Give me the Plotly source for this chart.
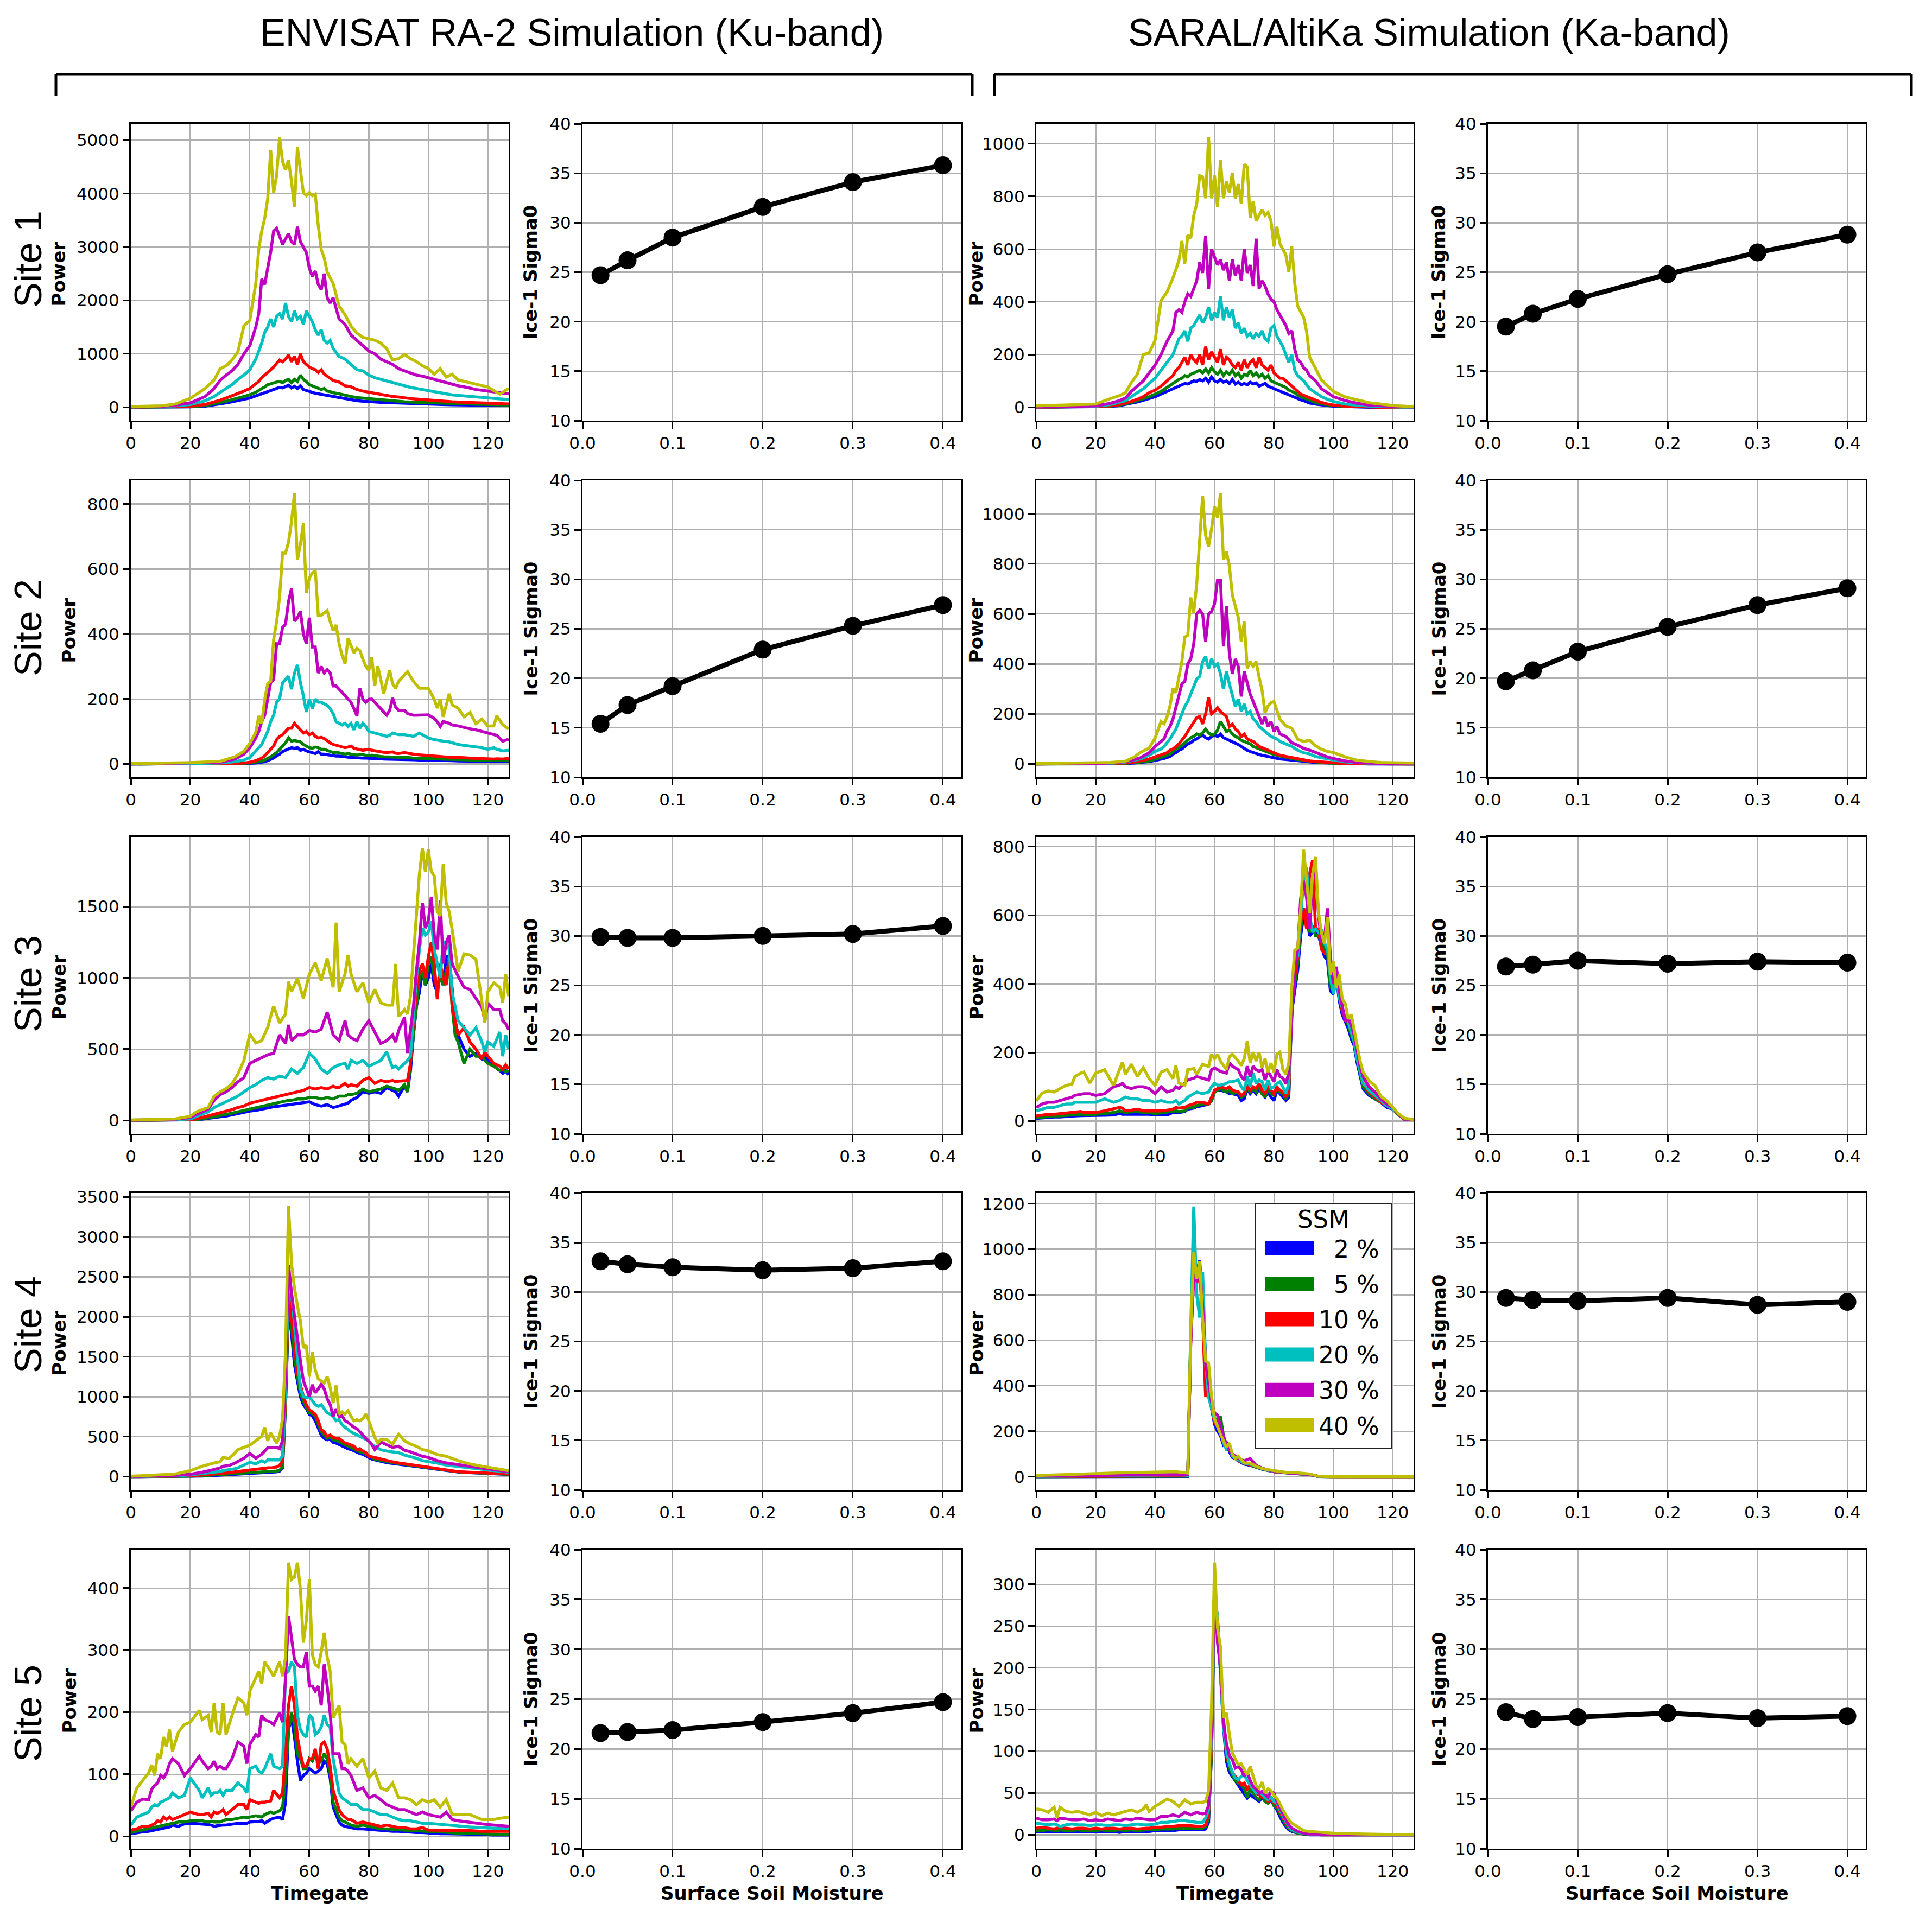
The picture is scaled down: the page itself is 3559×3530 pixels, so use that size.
import plotly.graph_objects as go

# ------------------------------------------------------------------ labels
SSM_LABELS = ["2 %", "5 %", "10 %", "20 %", "30 %", "40 %"]
SSM_VALUES = [0.02, 0.05, 0.10, 0.20, 0.30, 0.40]
SITE_LABELS = ["Site 1", "Site 2", "Site 3", "Site 4", "Site 5"]
BAND_TITLES = ["ENVISAT RA-2 Simulation (Ku-band)", "SARAL/AltiKa Simulation (Ka-band)"]
LEGEND_TITLE = "SSM"
Y_WAVE_LABEL = "Power"
Y_SIG_LABEL = "Ice-1 Sigma0"
X_WAVE_LABEL = "Timegate"
X_SIG_LABEL = "Surface Soil Moisture"

# ------------------------------------------------------------------ Ice-1 sigma0 vs SSM
S1_KU_SIG = [24.7, 26.2, 28.5, 31.6, 34.1, 35.8]
S1_KA_SIG = [19.5, 20.8, 22.3, 24.8, 27.0, 28.8]
S2_KU_SIG = [15.4, 17.3, 19.2, 22.9, 25.3, 27.4]
S2_KA_SIG = [19.7, 20.8, 22.7, 25.2, 27.4, 29.1]
S3_KU_SIG = [29.9, 29.8, 29.8, 30.0, 30.2, 31.0]
S3_KA_SIG = [26.9, 27.1, 27.5, 27.2, 27.4, 27.3]
S4_KU_SIG = [33.1, 32.8, 32.5, 32.2, 32.4, 33.1]
S4_KA_SIG = [29.4, 29.2, 29.1, 29.4, 28.7, 29.0]
S5_KU_SIG = [21.6, 21.7, 21.9, 22.7, 23.6, 24.7]
S5_KA_SIG = [23.7, 23.0, 23.2, 23.6, 23.1, 23.3]

# ------------------------------------------------------------------ Site 1, Ku
S1_KU_T = [0,10,15,20,25,28,30,32,34,36,
           38,40,42,43,44,45,46,47,48,49,
           50,51,52,53,54,55,56,57,58,59,
           60,61,62,63,64,65,66,67,68,70,
           72,74,76,78,80,82,84,86,88,90,
           92,94,96,98,100,102,104,106,108,110,
           113,116,120,124,127]
S1_KU_40 = [10,25,58,165,350,510,720,775,880,1040,
            1520,1625,2316,2954,3300,3538,3900,4813,4017,4335,
            5053,4600,4442,4628,4229,3751,4866,4388,4017,3963,
            4017,3960,3990,3400,2954,2795,2529,2423,2316,1891,
            1732,1520,1387,1307,1280,1254,1200,1094,882,908,
            988,908,855,776,722,616,722,563,616,510,
            470,430,377,244,350]
S1_KU_30 = [5,15,40,80,200,350,500,600,680,800,
            1000,1150,1500,1750,2400,2300,2600,2900,3300,3350,
            3200,3050,3150,3250,3100,3050,3380,3100,3000,2900,
            2600,2450,2550,2300,2200,2500,2050,1950,2050,1650,
            1550,1350,1250,1150,1050,1000,900,850,800,720,
            680,650,600,580,550,520,480,460,420,400,
            370,330,300,270,250]
S1_KU_20 = [3,10,25,50,120,200,280,350,420,520,
            600,700,900,1050,1200,1400,1500,1650,1500,1700,
            1750,1650,1950,1700,1600,1800,1650,1700,1550,1800,
            1700,1600,1450,1350,1450,1250,1200,1250,1100,950,
            900,800,700,680,600,550,520,480,450,420,
            400,370,350,330,300,280,270,250,230,220,
            205,190,170,150,140]
S1_KU_10 = [2,5,10,20,50,90,130,170,210,250,
            300,350,430,480,550,600,650,700,750,820,
            880,850,900,980,850,950,800,1000,850,800,
            750,720,700,650,700,620,580,540,500,470,
            400,380,330,300,280,260,230,220,200,190,
            170,160,150,140,130,120,115,110,100,95,
            90,85,70,65,60]
S1_KU_05 = [1,3,6,10,30,60,90,110,140,170,
            200,230,280,310,350,380,420,440,450,470,
            480,460,500,520,460,520,480,600,520,480,
            420,400,380,360,330,350,300,290,270,250,
            220,200,180,170,150,140,130,120,110,105,
            100,95,90,85,80,78,72,70,65,62,
            60,55,50,45,40]
S1_KU_02 = [1,2,4,5,20,40,60,80,100,120,
            150,170,210,230,260,280,300,310,330,350,
            370,360,380,410,360,390,350,400,330,310,
            300,280,260,250,240,230,210,200,190,170,
            150,140,120,110,100,95,90,85,80,75,
            70,65,60,58,55,52,50,48,45,42,
            40,38,35,32,30]

# ------------------------------------------------------------------ Site 1, Ka
S1_KA_T = [0,10,20,25,28,30,32,34,36,38,
           40,42,44,46,47,48,49,50,51,52,
           53,54,55,56,57,58,59,60,61,62,
           63,64,65,66,67,68,69,70,71,72,
           73,74,75,76,77,78,79,80,81,82,
           83,84,85,86,87,88,89,90,91,92,
           94,96,98,100,104,108,112,116,120,127]
S1_KA_40 = [5,8,12,33,44,55,93,125,200,206,
            254,405,437,491,524,556,631,545,653,642,
            728,772,879,874,793,1025,793,879,761,939,
            793,858,815,890,793,847,772,922,912,718,
            782,707,728,750,728,739,707,610,685,621,
            599,578,513,610,470,384,362,341,287,190,
            147,103,82,60,39,28,17,12,6,2]
S1_KA_30 = [1,2,5,15,25,35,60,80,100,130,
            160,200,250,290,360,370,360,400,430,420,
            450,480,550,510,650,450,600,570,540,560,
            520,550,480,560,500,540,480,600,510,540,
            460,640,450,480,460,430,410,400,370,350,
            330,310,280,290,220,180,170,150,140,120,
            100,70,55,40,25,15,8,5,3,1]
S1_KA_20 = [1,2,4,10,18,25,40,55,70,90,
            110,140,170,200,230,260,270,290,250,300,
            310,330,350,320,340,380,330,360,340,420,
            330,380,340,370,300,320,280,300,270,280,
            260,280,270,290,260,250,300,310,270,250,
            230,200,170,200,140,120,110,100,85,70,
            55,40,30,22,12,7,4,2,1,0]
S1_KA_10 = [0,1,2,5,10,15,22,30,40,55,
            65,80,100,120,140,150,170,190,160,200,
            180,170,200,160,230,180,210,190,170,220,
            160,190,180,160,150,170,140,180,150,170,
            180,150,190,160,150,140,160,130,120,110,
            110,100,90,80,70,60,50,45,40,35,
            25,18,12,8,4,2,1,0,0,0]
S1_KA_05 = [0,1,2,4,8,12,18,25,32,40,
            50,60,75,90,100,105,110,120,115,125,
            130,135,140,130,145,130,150,135,125,140,
            120,135,125,140,120,130,110,125,120,140,
            120,130,115,125,110,120,100,95,90,85,
            80,75,65,60,55,45,40,35,30,25,
            18,12,8,6,3,2,1,0,0,0]
S1_KA_02 = [0,1,1,3,6,10,15,20,26,32,
            40,50,60,70,75,80,85,90,88,95,
            100,98,105,100,110,95,115,100,95,105,
            95,100,90,105,88,95,85,90,85,95,
            88,92,80,85,90,80,75,70,65,60,
            55,50,45,40,35,30,28,25,20,16,
            12,8,6,4,2,1,0,0,0,0]

# ------------------------------------------------------------------ Site 2, Ku
S2_KU_T = [0,10,20,30,35,38,40,42,43,44,
           45,46,47,48,49,50,51,52,53,54,
           55,56,57,58,59,60,61,62,63,64,
           65,66,67,68,69,70,71,72,73,74,
           75,76,77,78,79,80,81,82,83,84,
           85,86,87,88,89,90,92,93,95,97,
           100,102,103,104,105,107,108,110,112,114,
           116,118,120,122,123,125,127]
S2_KU_40 = [1,2,4,8,22,39,63,97,148,124,
            199,247,254,383,438,513,649,649,683,745,
            833,629,676,741,526,574,588,595,458,458,
            465,472,438,410,428,370,335,308,387,363,
            342,356,349,322,301,288,329,240,301,260,
            216,254,288,247,233,254,274,284,254,233,
            233,199,172,199,145,216,182,172,145,158,
            124,138,117,117,148,121,107]
S2_KU_30 = [0,1,2,5,15,30,50,80,100,130,
            150,200,250,260,370,370,420,430,500,540,
            440,450,470,400,370,450,360,360,280,300,
            280,290,280,240,240,230,220,210,200,190,
            170,148,233,200,190,199,200,190,180,170,
            160,150,165,203,175,165,165,155,150,150,
            151,140,130,115,131,125,120,117,112,108,
            105,100,97,92,88,70,76]
S2_KU_20 = [0,0,1,3,7,12,20,40,50,60,
            80,100,130,150,190,200,250,260,270,230,
            280,305,250,210,160,200,170,200,190,190,
            185,180,170,155,130,125,120,125,115,125,
            105,130,110,125,115,100,98,95,92,90,
            88,85,88,95,92,90,90,88,85,95,
            80,75,73,72,70,68,65,60,57,55,
            52,50,45,50,45,40,42]
S2_KU_10 = [0,0,0,1,2,3,5,10,14,18,
            25,35,45,55,75,85,90,100,110,110,
            125,115,105,95,100,90,95,85,80,82,
            78,70,65,60,58,55,52,50,52,55,
            48,45,44,42,44,45,42,40,39,38,
            36,35,36,37,33,32,35,33,30,28,
            25,24,23,22,22,21,21,20,19,18,
            17,16,15,15,16,15,17]
S2_KU_05 = [0,0,0,1,1,2,3,5,7,9,
            12,16,22,28,35,45,55,65,80,70,
            72,70,68,60,55,50,48,52,50,45,
            45,42,40,35,36,33,32,30,32,30,
            28,27,30,28,26,25,27,25,24,23,
            22,22,23,22,21,20,21,20,18,18,
            17,16,16,15,15,14,14,13,13,12,
            12,11,11,11,10,10,10]
S2_KU_02 = [0,0,0,0,1,1,2,3,4,5,
            7,10,14,18,25,30,38,42,48,50,
            48,50,42,45,40,38,35,32,38,30,
            30,28,26,25,24,24,22,22,21,20,
            20,19,19,18,18,18,17,17,16,16,
            15,15,15,14,14,14,13,13,13,12,
            12,11,11,11,10,10,10,9,9,9,
            8,8,8,7,7,7,7]

# ------------------------------------------------------------------ Site 2, Ka
S2_KA_T = [0,10,20,25,30,33,35,38,40,42,
           43,44,45,46,47,48,49,50,51,52,
           53,54,55,56,57,58,59,60,61,62,
           63,64,65,66,67,68,69,70,71,72,
           73,74,75,76,77,78,79,80,81,82,
           84,86,88,90,92,94,96,98,100,104,
           108,112,116,120,127]
S2_KA_40 = [2,3,4,6,11,28,46,64,104,170,
            161,188,232,303,285,356,409,507,515,666,
            604,719,887,1073,914,870,940,1029,985,1082,
            817,850,790,675,631,586,489,569,383,409,
            391,409,347,294,205,232,245,250,214,179,
            152,143,99,90,95,73,59,50,46,28,
            15,11,6,5,4]
S2_KA_30 = [1,1,2,4,10,18,25,45,70,90,
            100,130,150,180,230,280,320,330,400,420,
            480,600,615,600,490,600,610,640,735,735,
            470,630,440,360,420,390,270,370,320,280,
            250,220,190,160,190,150,170,130,150,120,
            110,85,75,62,55,45,35,28,22,12,
            6,3,2,1,0]
S2_KA_20 = [1,1,2,3,8,15,20,35,50,60,
            70,85,100,120,140,170,200,230,250,280,
            310,340,350,410,430,380,420,390,400,360,
            300,370,320,280,230,260,210,240,200,210,
            180,170,150,140,130,120,110,105,100,90,
            80,70,55,45,40,30,25,20,15,8,
            5,3,2,1,0]
S2_KA_10 = [0,1,1,2,4,8,12,20,28,35,
            40,45,55,60,70,80,95,110,130,150,
            170,185,190,160,200,265,200,210,225,210,
            200,190,150,160,140,130,110,120,100,95,
            90,80,70,65,60,55,50,45,40,35,
            30,25,20,15,12,10,8,6,4,2,
            1,1,0,0,0]
S2_KA_05 = [0,0,1,1,3,5,8,12,18,25,
            30,35,40,50,60,65,75,85,95,105,
            110,120,115,125,140,125,115,120,135,170,
            150,130,135,120,110,105,95,90,85,80,
            70,65,60,55,50,45,42,38,35,32,
            28,22,18,14,10,8,6,4,3,2,
            1,0,0,0,0]
S2_KA_02 = [0,0,0,1,2,4,6,10,14,18,
            22,26,30,40,45,55,60,70,80,85,
            95,100,110,115,105,100,110,115,110,120,
            105,100,95,90,85,78,70,62,55,50,
            45,40,38,35,32,30,27,25,22,20,
            18,15,12,10,8,6,5,4,3,2,
            1,0,0,0,0]

# ------------------------------------------------------------------ Site 3, Ku
S3_KU_T = [0,10,15,20,22,24,26,28,30,32,
           34,36,38,40,42,44,46,48,50,52,
           53,54,56,58,60,62,64,66,68,69,
           70,72,73,74,76,78,80,82,84,86,
           88,89,90,92,93,94,95,96,97,98,
           99,100,101,102,103,104,105,106,107,108,
           109,110,112,114,116,118,119,120,122,124,
           125,126,127]
S3_KU_40 = [2,5,10,28,59,75,91,169,200,223,
            255,325,419,606,544,559,653,802,684,747,
            973,903,997,856,1028,1106,981,1137,934,1388,
            903,1028,1161,1028,903,966,825,919,825,809,
            809,1098,731,778,747,872,1184,1466,1731,1911,
            1747,1903,1747,1716,1466,1434,1802,1528,1466,1341,
            1200,1044,1169,1161,1130,841,684,903,966,934,
            825,1028,872]
S3_KU_30 = [1,3,8,20,40,60,80,140,180,200,
            230,270,300,400,420,440,460,470,600,540,
            670,560,600,600,630,620,640,760,600,580,
            560,700,600,580,560,640,700,620,540,560,
            600,550,630,723,473,637,800,1050,1250,1528,
            1350,1403,1567,1300,1200,1544,1100,1250,1300,1100,
            1050,1012,934,919,856,794,700,825,778,778,
            700,680,637]
S3_KU_20 = [1,2,5,10,25,40,60,90,110,130,
            150,170,200,230,250,280,300,290,310,300,
            330,360,330,370,470,430,360,330,370,380,
            390,400,360,420,400,420,380,400,420,480,
            370,380,360,400,420,450,750,1000,1200,1350,
            1300,1320,1400,1200,1100,1000,1250,1250,1200,900,
            800,700,650,600,650,550,480,550,520,620,
            450,600,500]
S3_KU_10 = [0,1,3,5,10,20,30,40,50,60,
            75,90,100,120,130,140,150,160,170,180,
            180,190,200,210,230,220,230,220,240,230,
            230,260,240,250,240,280,300,260,280,270,
            280,270,275,280,280,400,700,900,1050,1100,
            1000,1150,1250,1100,850,1100,1000,950,1150,800,
            700,600,650,550,500,430,480,450,400,380,
            360,390,360]
S3_KU_05 = [0,1,1,2,5,10,18,25,30,40,
            50,60,70,80,90,100,110,120,130,140,
            140,140,150,150,160,160,150,160,150,160,
            170,170,180,180,190,220,200,210,220,240,
            230,220,210,250,200,400,650,850,1000,1050,
            950,1100,1150,1000,950,1000,950,1050,1100,800,
            600,550,400,500,450,450,420,400,380,350,
            360,340,350]
S3_KU_02 = [0,1,1,2,4,8,12,18,25,30,
            40,50,55,65,70,80,90,95,100,105,
            110,110,120,120,130,110,100,110,90,95,
            100,110,120,140,160,200,190,200,190,230,
            210,200,170,240,200,350,600,800,900,1050,
            950,1000,1100,950,900,1050,950,1150,1150,900,
            700,600,500,450,470,430,450,420,380,350,
            330,350,320]

# ------------------------------------------------------------------ Site 3, Ka
S3_KA_T = [0,2,4,6,8,10,12,13,15,16,
           18,20,23,26,28,29,30,32,34,36,
           38,40,42,44,46,47,48,50,51,53,
           54,56,58,59,60,61,62,64,65,66,
           68,69,70,71,72,73,74,75,76,77,
           78,79,80,81,82,83,84,85,86,87,
           88,89,90,91,92,93,94,95,96,97,
           98,99,100,101,102,103,104,105,106,107,
           108,109,110,112,114,116,118,120,122,124,
           127]
S3_KA_40 = [59,82,88,85,95,104,108,130,140,143,
            111,140,150,104,150,172,137,166,130,156,
            124,104,143,150,124,162,111,104,150,153,
            137,166,159,195,182,195,175,150,188,195,
            175,162,182,233,169,201,175,201,156,182,
            143,169,143,195,201,150,137,169,388,498,
            504,620,791,689,607,717,771,607,549,517,
            594,427,465,388,427,356,343,298,311,266,
            220,175,143,117,104,72,59,40,21,8,
            5]
S3_KA_30 = [40,50,55,55,60,65,70,75,78,80,
            80,75,80,100,105,110,100,95,100,100,
            95,80,100,85,90,100,95,110,120,125,
            130,125,120,150,155,150,145,140,170,160,
            150,130,120,160,130,160,150,145,150,120,
            145,130,115,150,130,125,110,140,300,450,
            500,650,700,650,560,700,740,600,520,530,
            620,480,400,450,380,330,290,300,280,250,
            200,160,130,100,85,65,50,40,20,6,
            5]
S3_KA_20 = [30,35,40,40,45,50,50,55,55,55,
            55,55,65,55,60,65,70,65,65,60,
            60,55,60,55,55,60,50,60,70,80,
            85,80,85,100,110,105,105,110,115,115,
            120,100,90,130,100,140,110,120,115,90,
            120,95,100,110,115,100,80,110,380,470,
            480,600,700,740,600,550,560,550,560,520,
            500,420,370,420,360,330,300,290,260,230,
            180,140,110,90,75,60,45,35,20,6,
            5]
S3_KA_10 = [15,18,20,20,22,25,25,28,28,25,
            25,25,30,35,40,38,30,32,35,30,
            30,28,30,32,35,40,38,40,45,50,
            55,55,50,70,90,95,100,95,100,90,
            85,75,80,105,90,100,95,110,90,80,
            100,90,80,100,90,85,70,90,350,420,
            480,580,620,560,720,760,560,560,500,490,
            500,430,400,440,380,320,300,290,260,240,
            190,150,110,85,70,55,45,35,20,5,
            4]
S3_KA_05 = [10,12,14,15,15,17,18,18,20,20,
            18,20,22,25,30,28,25,27,28,25,
            25,22,24,25,28,30,28,30,38,40,
            45,50,50,60,85,90,95,85,90,80,
            85,70,75,100,85,95,85,105,80,70,
            95,80,75,95,85,80,65,80,340,400,
            460,560,620,600,550,570,540,540,520,500,
            490,390,390,430,360,320,300,280,250,230,
            180,140,100,80,65,55,45,35,18,5,
            4]
S3_KA_02 = [8,10,10,12,12,14,15,15,16,16,
            15,16,17,18,22,20,20,22,22,20,
            20,18,20,18,25,25,25,28,35,38,
            42,45,50,60,85,90,90,85,80,80,
            75,60,65,95,80,90,80,95,80,70,
            85,70,60,90,80,70,60,70,320,380,
            440,540,600,600,540,550,550,540,510,480,
            470,380,370,420,350,310,290,270,240,220,
            170,130,95,75,65,55,40,35,18,5,
            4]

# ------------------------------------------------------------------ Site 4, Ku
S4_KU_T = [0,10,15,20,24,28,30,31,33,35,
           36,38,40,42,44,45,46,47,48,49,
           50,51,52,53,54,55,56,57,58,59,
           60,61,62,63,64,65,66,67,68,69,
           70,71,72,73,74,75,76,77,78,79,
           80,81,82,83,84,86,88,90,92,94,
           96,98,100,103,106,110,114,118,122,127]
S4_KU_40 = [5,20,33,75,130,172,186,241,227,297,
            338,366,394,449,505,616,449,546,477,421,
            505,727,1558,3389,2668,2363,2141,1947,1614,1642,
            1253,1558,1337,1226,1198,1170,1253,1115,921,1142,
            782,810,782,824,754,699,713,699,727,782,
            699,588,491,421,463,463,408,532,449,408,
            380,338,324,276,255,200,158,130,103,75]
S4_KU_30 = [2,8,15,30,55,90,110,130,140,170,
            190,230,290,230,280,320,360,366,366,366,
            350,450,1300,2650,2300,2000,1700,1450,1200,1100,
            1000,1150,1050,1100,1156,1100,976,900,754,850,
            754,760,699,680,650,616,600,560,520,480,
            449,400,338,380,435,400,366,380,330,310,
            280,255,240,200,172,150,125,110,90,61]
S4_KU_20 = [1,5,10,20,35,55,65,75,85,100,
            110,150,180,160,200,180,210,210,210,210,
            210,260,1100,2400,2300,1900,1500,1100,1000,990,
            1000,950,900,880,900,850,800,782,750,700,
            713,650,620,588,560,540,520,500,480,460,
            449,400,380,360,338,320,310,300,270,250,
            230,200,190,170,144,125,105,90,75,55]
S4_KU_10 = [0,2,5,10,20,30,40,45,50,60,
            65,75,80,90,100,100,110,110,115,120,
            140,200,1000,2300,2000,1600,1300,1150,1004,900,
            837,810,782,700,588,560,505,520,490,480,
            477,450,421,410,394,380,338,350,320,300,
            255,250,240,230,220,200,185,172,165,150,
            140,130,116,100,85,61,55,47,40,33]
S4_KU_05 = [0,1,3,6,12,20,25,28,32,38,
            40,45,50,55,60,60,65,65,68,70,
            80,120,900,2200,1900,1500,1250,1050,950,860,
            800,790,760,650,560,520,480,500,460,450,
            440,420,400,380,360,340,320,310,300,280,
            250,240,220,210,205,190,175,165,155,145,
            135,125,110,95,80,60,52,45,38,30]
S4_KU_02 = [0,1,2,4,8,14,18,20,24,28,
            30,35,40,45,48,50,52,55,58,60,
            70,110,900,2100,1800,1400,1200,1000,900,850,
            780,760,700,620,520,480,460,470,430,420,
            400,390,370,350,340,320,300,290,280,260,
            230,220,210,200,190,175,165,155,145,135,
            125,115,105,90,75,58,50,42,35,28]

# ------------------------------------------------------------------ Site 4, Ka
S4_KA_T = [0,10,20,30,40,47,50,51,52,53,
           54,55,56,57,58,59,60,61,62,63,
           64,65,66,67,68,70,72,74,76,78,
           80,84,88,92,95,100,110,127]
S4_KA_40 = [5,10,14,18,20,22,18,16,645,986,
            869,947,694,509,499,353,255,216,187,158,
            129,148,99,80,90,60,60,46,36,31,
            26,19,17,12,2,0,0,0]
S4_KA_30 = [2,4,6,8,10,12,10,9,600,870,
            860,930,750,500,420,330,280,270,220,180,
            140,120,100,90,80,70,80,50,38,30,
            24,18,15,10,2,0,0,0]
S4_KA_20 = [1,3,4,5,7,8,7,6,650,1188,
            800,700,900,500,350,300,250,230,200,150,
            120,130,90,80,75,60,55,45,35,28,
            23,17,14,10,1,0,0,0]
S4_KA_10 = [1,2,3,3,4,5,4,4,600,900,
            850,900,700,350,480,300,240,220,210,170,
            140,120,95,80,70,58,52,45,35,28,
            22,18,14,10,1,0,0,0]
S4_KA_05 = [0,1,2,2,2,3,2,2,620,900,
            880,920,776,500,450,300,260,230,265,180,
            140,115,95,85,75,60,50,42,34,27,
            22,17,14,9,1,0,0,0]
S4_KA_02 = [0,0,1,1,1,1,1,1,620,950,
            900,950,760,520,400,300,230,200,180,140,
            150,110,85,80,70,55,50,40,33,27,
            22,17,13,9,1,0,0,0]

# ------------------------------------------------------------------ Site 5, Ku
S5_KU_T = [0,2,4,6,7,8,9,10,11,12,
           13,14,16,18,20,23,24,26,27,28,
           29,30,31,32,34,36,38,39,40,42,
           43,44,45,47,48,50,51,52,53,54,
           55,56,57,58,59,60,61,62,63,64,
           65,66,67,68,70,71,72,73,74,76,
           78,80,82,84,86,88,90,92,94,96,
           98,100,102,104,106,108,110,114,118,122,
           124,127]
S5_KU_40 = [47,78,90,102,115,98,133,125,160,145,
            172,137,168,180,184,203,188,195,168,215,
            168,164,215,164,195,223,215,195,234,254,
            266,246,281,266,258,281,258,289,441,414,
            418,441,398,312,348,414,293,277,273,297,
            328,289,266,191,211,152,148,117,125,113,
            125,94,105,78,74,86,62,62,59,51,
            59,55,59,47,59,35,35,35,27,27,
            29,31]
S5_KU_30 = [41,55,60,59,76,82,86,98,94,102,
            117,125,117,98,109,129,121,109,113,121,
            109,113,109,109,125,152,145,117,148,164,
            160,195,188,184,180,199,184,254,355,320,
            285,277,273,273,297,242,242,234,242,211,
            277,242,199,133,133,109,109,105,98,74,
            78,62,66,59,51,47,43,43,39,35,
            39,35,33,31,39,27,25,22,20,18,
            17,16]
S5_KU_20 = [18,31,35,39,47,51,49,55,57,59,
            62,70,62,66,94,74,62,78,66,70,
            70,74,66,74,74,86,78,70,109,113,
            105,102,109,133,113,109,113,262,266,281,
            273,195,172,164,160,195,191,164,168,176,
            195,180,176,125,70,62,59,55,51,51,
            43,43,39,35,35,31,27,25,25,23,
            21,21,20,19,18,17,16,15,14,13,
            12,12]
S5_KU_10 = [10,12,16,16,18,20,25,23,31,27,
            31,27,31,35,39,35,35,37,31,39,
            37,39,43,35,43,51,51,43,59,55,
            53,55,55,57,74,62,70,133,211,242,
            211,160,133,113,113,125,125,141,109,148,
            152,141,113,74,43,35,31,27,27,21,
            23,21,18,16,18,16,14,14,12,12,
            14,10,10,10,9,9,9,9,8,8,
            8,8]
S5_KU_05 = [6,8,10,12,13,14,15,16,17,18,
            19,20,23,23,25,25,25,23,24,23,
            23,23,25,27,27,29,31,30,31,33,
            32,31,35,39,37,41,47,94,172,199,
            180,133,125,109,109,125,121,133,117,121,
            133,125,102,55,31,25,23,20,18,16,
            18,16,14,12,12,11,10,10,9,9,
            8,8,7,7,6,6,5,5,4,4,
            3,3]
S5_KU_02 = [4,6,7,8,9,10,11,12,13,14,
            15,18,16,20,21,20,20,19,18,16,
            17,18,18,18,20,21,21,21,23,23,
            24,25,21,27,29,31,27,55,172,191,
            160,121,90,98,102,109,105,102,105,109,
            121,117,94,47,23,18,16,15,14,12,
            12,11,10,10,9,8,8,7,7,6,
            6,5,5,4,4,4,3,3,3,2,
            2,2]

# ------------------------------------------------------------------ Site 5, Ka
S5_KA_T = [0,2,4,6,7,8,10,12,14,16,
           18,20,22,24,26,28,30,32,34,36,
           37,38,40,42,44,46,48,50,52,54,
           56,57,58,59,60,61,62,63,64,65,
           66,67,68,69,70,71,72,73,74,75,
           76,77,78,79,80,81,82,83,84,85,
           86,88,90,92,96,100,110,127]
S5_KA_40 = [31,30,27,33,21,33,28,27,28,26,
            24,27,23,26,24,26,28,30,27,31,
            36,28,34,39,43,40,34,42,37,39,
            39,40,53,155,326,248,225,140,146,120,
            98,91,84,85,79,72,82,71,59,56,
            63,50,55,53,47,44,36,30,24,18,
            14,10,5,4,3,2,1,0]
S5_KA_30 = [20,18,18,19,17,20,19,18,18,19,
            17,18,17,19,18,17,19,18,20,19,
            19,18,18,22,22,24,22,27,24,27,
            25,26,35,130,300,230,200,135,110,95,
            90,80,82,78,70,75,65,58,55,50,
            52,48,45,52,50,40,32,25,18,12,
            8,4,2,1,1,0,0,0]
S5_KA_20 = [14,13,12,13,12,10,12,13,12,12,
            11,12,12,11,12,12,11,12,13,12,
            12,12,13,15,15,16,17,17,16,15,
            15,20,30,120,290,260,190,130,100,85,
            75,68,66,70,72,65,60,55,50,52,
            48,45,42,45,40,38,30,22,16,10,
            6,3,2,1,1,0,0,0]
S5_KA_10 = [8,9,8,7,8,9,8,7,8,8,
            7,8,7,8,8,7,8,8,7,8,
            8,8,9,9,10,10,11,11,11,10,
            10,12,25,110,300,240,200,140,95,85,
            75,70,65,60,62,55,60,55,50,48,
            45,48,40,42,38,35,28,20,14,9,
            6,3,2,1,0,0,0,0]
S5_KA_05 = [5,5,6,5,5,6,5,5,6,5,
            5,5,6,5,5,6,5,6,5,6,
            6,6,6,7,7,7,8,8,8,8,
            8,10,20,100,295,255,200,135,95,80,
            72,65,62,60,55,45,55,50,45,42,
            48,40,38,45,35,32,25,18,12,8,
            5,2,1,1,0,0,0,0]
S5_KA_02 = [4,4,4,4,4,4,4,4,4,4,
            4,4,4,4,4,3,4,4,4,4,
            4,4,5,5,5,5,6,6,6,6,
            6,7,15,100,290,260,190,130,88,75,
            70,65,60,55,50,44,48,45,42,40,
            45,40,38,42,35,30,22,15,10,6,
            4,2,1,0,0,0,0,0]

# ------------------------------------------------------------------ figure geometry (pixels)
W, H = 3559, 3530
COLORS = ["#0000ff", "#008000", "#ff0000", "#00bfbf", "#bf00bf", "#bfbf00"]
COL_PX = [(241, 937), (1073, 1771), (1909, 2604), (2741, 3437)]
ROW_PX = [(228, 775), (885, 1432), (1542, 2089), (2198, 2745), (2855, 3406)]


def fx(x):
    return x / W


def fy(y):
    return 1 - y / H


WAVE = {
    (0, 0): (S1_KU_T, [S1_KU_02, S1_KU_05, S1_KU_10, S1_KU_20, S1_KU_30, S1_KU_40], [-253, 5308], 1000),
    (0, 2): (S1_KA_T, [S1_KA_02, S1_KA_05, S1_KA_10, S1_KA_20, S1_KA_30, S1_KA_40], [-51, 1076], 200),
    (1, 0): (S2_KU_T, [S2_KU_02, S2_KU_05, S2_KU_10, S2_KU_20, S2_KU_30, S2_KU_40], [-41, 873], 200),
    (1, 2): (S2_KA_T, [S2_KA_02, S2_KA_05, S2_KA_10, S2_KA_20, S2_KA_30, S2_KA_40], [-53, 1134], 200),
    (2, 0): (S3_KU_T, [S3_KU_02, S3_KU_05, S3_KU_10, S3_KU_20, S3_KU_30, S3_KU_40], [-95, 1990], 500),
    (2, 2): (S3_KA_T, [S3_KA_02, S3_KA_05, S3_KA_10, S3_KA_20, S3_KA_30, S3_KA_40], [-37, 828], 200),
    (3, 0): (S4_KU_T, [S4_KU_02, S4_KU_05, S4_KU_10, S4_KU_20, S4_KU_30, S4_KU_40], [-166, 3550], 500),
    (3, 2): (S4_KA_T, [S4_KA_02, S4_KA_05, S4_KA_10, S4_KA_20, S4_KA_30, S4_KA_40], [-58, 1247], 200),
    (4, 0): (S5_KU_T, [S5_KU_02, S5_KU_05, S5_KU_10, S5_KU_20, S5_KU_30, S5_KU_40], [-20, 462], 100),
    (4, 2): (S5_KA_T, [S5_KA_02, S5_KA_05, S5_KA_10, S5_KA_20, S5_KA_30, S5_KA_40], [-16.6, 341.6], 50),
}
SIGMA = {
    (0, 1): S1_KU_SIG, (0, 3): S1_KA_SIG,
    (1, 1): S2_KU_SIG, (1, 3): S2_KA_SIG,
    (2, 1): S3_KU_SIG, (2, 3): S3_KA_SIG,
    (3, 1): S4_KU_SIG, (3, 3): S4_KA_SIG,
    (4, 1): S5_KU_SIG, (4, 3): S5_KA_SIG,
}

for key, (t, ser, _, _) in WAVE.items():
    for s in ser:
        if len(s) != len(t):
            raise ValueError(f"length mismatch in panel {key}: {len(s)} vs {len(t)}")

TICKFONT = dict(family="DejaVu Sans", size=31, color="black")
AX = dict(showline=True, linecolor="black", linewidth=3, mirror=True,
          ticks="outside", ticklen=12, tickwidth=3, tickcolor="black",
          showgrid=True, gridcolor="#b0b0b0", gridwidth=2.5, zeroline=False,
          tickfont=TICKFONT, automargin=False, fixedrange=True)

fig = go.Figure()
layout = {}
annotations = []
shapes = []

for r in range(5):
    for c in range(4):
        k = r * 4 + c + 1
        sfx = "" if k == 1 else str(k)
        xr, yr = "x" + sfx, "y" + sfx
        xdom = [fx(COL_PX[c][0]), fx(COL_PX[c][1])]
        ydom = [fy(ROW_PX[r][1]), fy(ROW_PX[r][0])]
        if c in (0, 2):
            t, ser, yrange, dtick = WAVE[(r, c)]
            for i, s in enumerate(ser):
                fig.add_trace(go.Scatter(x=t, y=s, mode="lines", name=SSM_LABELS[i],
                                         line=dict(color=COLORS[i], width=5.5),
                                         xaxis=xr, yaxis=yr, showlegend=False,
                                         hoverinfo="skip"))
            layout["xaxis" + sfx] = dict(AX, domain=xdom, anchor=yr, range=[0, 127],
                                         tick0=0, dtick=20, tickformat="d")
            layout["yaxis" + sfx] = dict(AX, domain=ydom, anchor=xr, range=yrange,
                                         tick0=0, dtick=dtick, tickformat="d")
        else:
            fig.add_trace(go.Scatter(x=SSM_VALUES, y=SIGMA[(r, c)], mode="lines+markers",
                                     line=dict(color="black", width=9),
                                     marker=dict(color="black", size=33),
                                     xaxis=xr, yaxis=yr, showlegend=False,
                                     hoverinfo="skip"))
            layout["xaxis" + sfx] = dict(AX, domain=xdom, anchor=yr, range=[0.0, 0.4205],
                                         tick0=0, dtick=0.1, tickformat=".1f")
            layout["yaxis" + sfx] = dict(AX, domain=ydom, anchor=xr, range=[10, 40],
                                         tick0=10, dtick=5, tickformat="d")

# ------------------------------------------------------------------ axis titles (as text)
LABFONT = dict(family="DejaVu Sans", size=34, color="black")
POWER_X = {0: [108, 127, 108, 108, 127], 2: [1798] * 5}
for r in range(5):
    yc = (ROW_PX[r][0] + ROW_PX[r][1]) / 2 + 3
    for c in (0, 2):
        annotations.append(dict(text="<b>%s</b>" % Y_WAVE_LABEL, x=fx(POWER_X[c][r]), y=fy(yc),
                                xref="paper", yref="paper", showarrow=False, textangle=-90,
                                xanchor="center", yanchor="middle", font=LABFONT))
    for c, xp in ((1, 977), (3, 2650)):
        annotations.append(dict(text="<b>%s</b>" % Y_SIG_LABEL, x=fx(xp), y=fy(yc - 3),
                                xref="paper", yref="paper", showarrow=False, textangle=-90,
                                xanchor="center", yanchor="middle", font=LABFONT))
for c in range(4):
    xc = (COL_PX[c][0] + COL_PX[c][1]) / 2
    txt = X_WAVE_LABEL if c in (0, 2) else X_SIG_LABEL
    annotations.append(dict(text="<b>%s</b>" % txt, x=fx(xc), y=fy(3488),
                            xref="paper", yref="paper", showarrow=False,
                            xanchor="center", yanchor="middle", font=LABFONT))

# ------------------------------------------------------------------ site labels
SITE_Y = [478, 1157, 1813, 2441, 3157]
for r in range(5):
    annotations.append(dict(text=SITE_LABELS[r], x=fx(52), y=fy(SITE_Y[r]), xref="paper", yref="paper",
                            showarrow=False, textangle=-90, xanchor="center", yanchor="middle",
                            font=dict(family="Liberation Sans", size=70, color="black")))

# ------------------------------------------------------------------ band titles + brackets
TITLE_X = [1053, 2632]
BRACKETS = [(103, 1791), (1832, 3521)]
for i in range(2):
    annotations.append(dict(text=BAND_TITLES[i], x=fx(TITLE_X[i]), y=fy(60), xref="paper", yref="paper",
                            showarrow=False, xanchor="center", yanchor="middle",
                            font=dict(family="Liberation Sans", size=70, color="black")))
    x0, x1 = BRACKETS[i]
    for (a, b, cc, d) in ((x0, 176, x0, 137), (x0, 137, x1, 137), (x1, 137, x1, 176)):
        shapes.append(dict(type="line", xref="paper", yref="paper", x0=fx(a), y0=fy(b),
                           x1=fx(cc), y1=fy(d), line=dict(color="black", width=5)))

# ------------------------------------------------------------------ legend (drawn in Site 4 Ka panel)
LX0, LX1, LY0, LY1 = 2312, 2564, 2217, 2668
shapes.append(dict(type="rect", xref="paper", yref="paper", x0=fx(LX0), x1=fx(LX1), y0=fy(LY1), y1=fy(LY0),
                   line=dict(color="#222222", width=2), fillcolor="white", layer="above"))
annotations.append(dict(text=LEGEND_TITLE, x=fx((LX0 + LX1) / 2), y=fy(2246), xref="paper", yref="paper",
                        showarrow=False, xanchor="center", yanchor="middle",
                        font=dict(family="DejaVu Sans", size=45, color="black")))
for i, lab in enumerate(SSM_LABELS):
    yc = 2300 + i * 65.2
    shapes.append(dict(type="rect", xref="paper", yref="paper", x0=fx(2330), x1=fx(2421),
                       y0=fy(yc + 13), y1=fy(yc - 13), line=dict(width=0), fillcolor=COLORS[i],
                       layer="above"))
    annotations.append(dict(text=lab, x=fx(2543), y=fy(yc + 1), xref="paper", yref="paper",
                            showarrow=False, xanchor="right", yanchor="middle",
                            font=dict(family="DejaVu Sans", size=44, color="black")))

fig.update_layout(width=W, height=H, margin=dict(l=0, r=0, t=0, b=0, pad=0),
                  paper_bgcolor="white", plot_bgcolor="white", showlegend=False,
                  annotations=annotations, shapes=shapes, **layout)

fig.write_html("out.html", config={"displayModeBar": False, "staticPlot": True},
               post_script="document.body.style.margin='0px';")
